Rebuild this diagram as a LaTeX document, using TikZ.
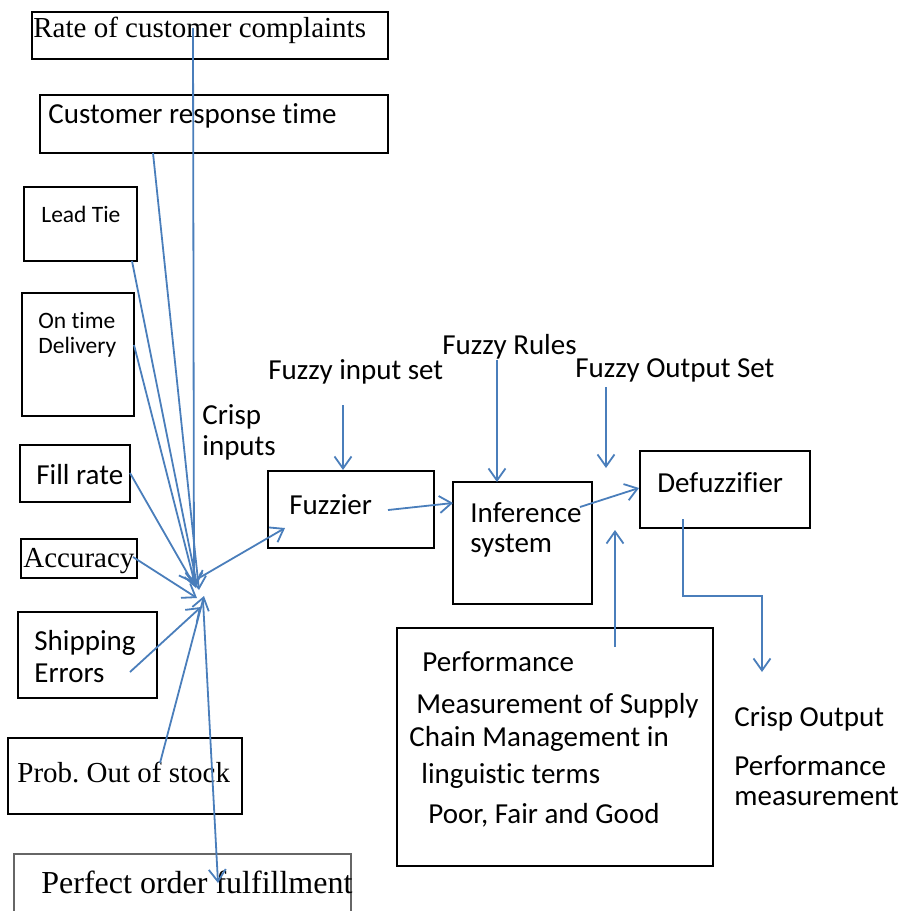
\documentclass[tikz,border=0pt]{standalone}
\usepackage{fontspec}
\setmainfont{Liberation Serif}
\newfontfamily\calfont[Ligatures=NoCommon]{Carlito}
\usetikzlibrary{arrows.meta,fit}
\definecolor{arrblue}{RGB}{74,126,187}
\frenchspacing
\begin{document}
\begin{tikzpicture}[x=0.5pt,y=-0.5pt,
  box/.style={draw=black,line width=1pt,inner sep=0pt},
  lbox/.style={draw=black!60,line width=0.7pt,inner sep=0pt},
  ctxt/.style={font=\calfont\fontsize{14.5}{17}\selectfont,anchor=base west,inner sep=0pt},
  cs/.style={font=\calfont\fontsize{11.75}{13}\selectfont,anchor=base west,inner sep=0pt},
  stxt/.style={font=\fontsize{14.5}{17}\selectfont,anchor=base west,inner sep=0pt},
  arr/.style={draw=arrblue,line width=0.9pt,-{Straight Barb[length=6pt,width=8.5pt,line width=0.9pt]}},
  ln/.style={draw=arrblue,line width=0.9pt}]
\useasboundingbox (0,0) rectangle (912,911);
\clip (0,0) rectangle (912,911);
% boxes
\node[box,fit={(32,12)(388,59)}] (rate) {};
\node[box,fit={(40,95)(388,153)}] (crt) {};
\node[box,fit={(24,187)(137,261)}] (lead) {};
\node[box,fit={(22,293)(134,416)}] (ontime) {};
\node[box,fit={(20,445)(130,502)}] (fill) {};
\node[box,fit={(21,539)(137,578)}] (acc) {};
\node[box,fit={(18,612)(157,698)}] (ship) {};
\node[box,fit={(8,738)(242,814)}] (prob) {};
\node[lbox,fit={(14,854)(351,940)}] (perfect) {};
\node[box,fit={(268,471)(434,548)}] (fuzzier) {};
\node[box,fit={(453,482)(592,604)}] (infer) {};
\node[box,fit={(640,451)(810,528)}] (defuzz) {};
\node[box,fit={(397,628)(713,866)}] (perf) {};
% texts
\node[stxt] (ratet) at (33,37) {Rate of customer complaints};
\node[ctxt] (crtt) at (48,123) {Customer response time};
\node[cs] (leadt) at (41,222) {Lead Tie};
\node[cs] (ontimet) at (38,328) {On time};
\node[cs] (delivt) at (38,353) {Delivery};
\node[ctxt] (fillt) at (36,484) {Fill rate};
\node[stxt] (acct) at (23,567) {Accuracy};
\node[ctxt] (shipt) at (34,650) {Shipping};
\node[ctxt] (errt) at (34,682) {Errors};
\node[stxt] (probt) at (17,782) {Prob. Out of stock};
\node[stxt,font=\fontsize{16}{18}\selectfont] (perft) at (41,893) {Perfect order fulfillment};
\node[ctxt] (crisp) at (202,424) {Crisp};
\node[ctxt] (inputs) at (202,455) {inputs};
\node[ctxt] (fis) at (268,379) {Fuzzy input set};
\node[ctxt] (frules) at (442,354) {Fuzzy Rules};
\node[ctxt] (fos) at (575,377) {Fuzzy Output Set};
\node[ctxt] (fuzt) at (289,514) {Fuzzier};
\node[ctxt] (inft) at (470,522) {Inference};
\node[ctxt] (syst) at (470,552) {system};
\node[ctxt] (deft) at (657,492) {Defuzzifier};
\node[ctxt] (p1) at (422,671) {Performance};
\node[ctxt] (p2) at (416,713) {Measurement of Supply};
\node[ctxt] (p3) at (409,746) {Chain Management in};
\node[ctxt] (p4) at (421,783) {linguistic terms};
\node[ctxt] (p5) at (428,823) {Poor, Fair and Good};
\node[ctxt] (co) at (734,726) {Crisp Output};
\node[ctxt] (pm1) at (734,775) {Performance};
\node[ctxt] (pm2) at (734,805) {measurement};
% connector end points
\coordinate (a1) at (193,28);   \coordinate (b1) at (194,586);
\coordinate (a2) at (153,153);  \coordinate (b2) at (199,590);
\coordinate (a3) at (132,261);  \coordinate (b3) at (197,585);
\coordinate (a4) at (134,345);  \coordinate (b4) at (196,588);
\coordinate (a5) at (130,473);  \coordinate (b5) at (193,583);
\coordinate (a6) at (133,557);  \coordinate (b6) at (197,598);
\coordinate (a7) at (130,672);  \coordinate (b7) at (201,607);
\coordinate (a8) at (160,763);  \coordinate (b8) at (204,596);
\coordinate (hub) at (203,600); \coordinate (pofe) at (218,883);
\coordinate (hubf) at (199,578); \coordinate (fzin) at (285,528);
\coordinate (fisa) at (343,405); \coordinate (fisb) at (343,470);
\coordinate (fra) at (497,360);  \coordinate (frb) at (497,482);
\coordinate (fosa) at (606,387); \coordinate (fosb) at (606,468);
\coordinate (f2ia) at (388,510); \coordinate (f2ib) at (453,503);
\coordinate (i2da) at (580,507); \coordinate (i2db) at (639,488);
\coordinate (pupa) at (615,647); \coordinate (pupb) at (615,530);
\coordinate (dfa) at (683,519);  \coordinate (dfb) at (683,596);
\coordinate (dfc) at (762,596);  \coordinate (dfd) at (762,672);
% connectors
\draw[arr] (a1) -- (b1);
\draw[arr] (a2) -- (b2);
\draw[arr] (a3) -- (b3);
\draw[arr] (a4) -- (b4);
\draw[arr] (a5) -- (b5);
\draw[arr] (a6) -- (b6);
\draw[arr] (a7) -- (b7);
\draw[arr] (a8) -- (b8);
\draw[arr] (hub) -- (pofe);
\draw[arr] (hubf) -- (fzin);
\draw[arr] (fisa) -- (fisb);
\draw[arr] (fra) -- (frb);
\draw[arr] (fosa) -- (fosb);
\draw[arr] (f2ia) -- (f2ib);
\draw[arr] (i2da) -- (i2db);
\draw[arr] (pupa) -- (pupb);
\draw[arr] (dfa) -- (dfb) -- (dfc) -- (dfd);
\end{tikzpicture}
\end{document}
